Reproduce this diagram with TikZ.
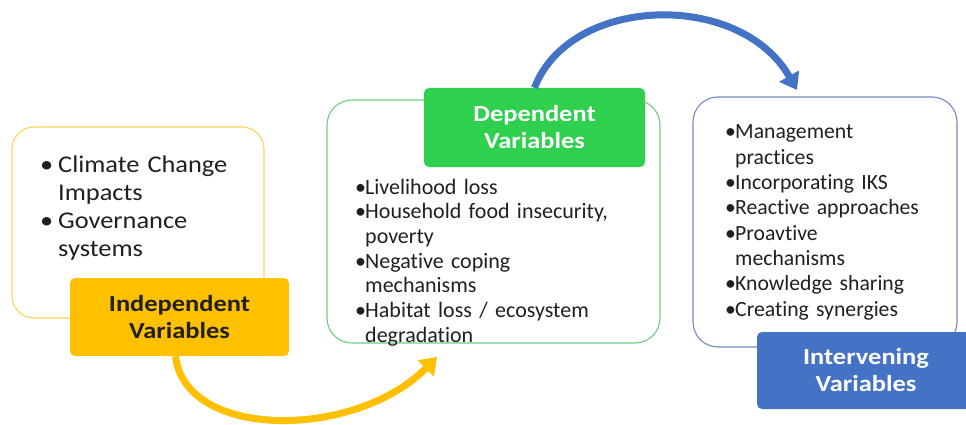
\documentclass[tikz,border=0pt]{standalone}
\usepackage{fontspec}
\setmainfont{Carlito}[Ligatures=NoCommon]
\newfontfamily\labfont{Carlito}[FakeStretch=1.15,Ligatures=NoCommon]
\newfontfamily\wfont{Carlito}[FakeStretch=1.1,Ligatures=NoCommon]
\usetikzlibrary{arrows.meta}
\definecolor{gold}{RGB}{255,192,0}
\definecolor{goldline}{RGB}{255,210,90}
\definecolor{grn}{RGB}{46,208,78}
\definecolor{grnline}{RGB}{110,205,130}
\definecolor{blu}{RGB}{68,114,196}
\definecolor{bluline}{RGB}{115,138,198}
\definecolor{txt}{RGB}{32,32,32}
\newcommand\bulA{\makebox[18pt][l]{•}}
\newcommand\indA{\hspace*{18pt}}
\newcommand\bulB{\makebox[10pt][l]{•}}
\newcommand\indB{\hspace*{10pt}}
\begin{document}
\begin{tikzpicture}[x=1pt,y=-1pt,
  outbox/.style={draw, line width=1.1pt, rounded corners=22pt, fill=white, inner sep=0},
  labbox/.style={rounded corners=5pt, inner sep=0, align=center,
    font=\labfont\bfseries\fontsize{23}{27}\selectfont},
  bodytext/.style={anchor=base west, inner sep=0, align=left, text width=260pt, text=txt},
  arr/.style={line width=7pt, -{Triangle[width=22pt,length=16pt]}}
]
\useasboundingbox[fill=white] (0,0) rectangle (966,425);

% outline boxes
\node[outbox, draw=goldline, minimum width=252pt, minimum height=191pt] (b1) at (138,222.5) {};
\node[outbox, draw=grnline, minimum width=333pt, minimum height=243pt, rounded corners=25pt] (b2) at (493.5,221.5) {};
\node[outbox, draw=bluline, minimum width=264pt, minimum height=250pt, rounded corners=25pt] (b3) at (825,222) {};

% body texts
\node[bodytext, font=\wfont\fontsize{24}{28}\selectfont] (t1) at (40,172)
  {\bulA Climate Change\\ \indA Impacts\\ \bulA Governance\\ \indA systems};
\node[bodytext, font=\fontsize{22}{24.7}\selectfont] (t2) at (355,194)
  {\bulB Livelihood loss\\ \bulB Household food insecurity,\\ \indB poverty\\
   \bulB Negative coping\\ \indB mechanisms\\ \bulB Habitat loss / ecosystem\\ \indB degradation};
\node[bodytext, font=\fontsize{21.7}{25.3}\selectfont] (t3) at (725,139)
  {\bulB Management\\ \indB practices\\ \bulB Incorporating IKS\\ \bulB Reactive approaches\\
   \bulB Proavtive\\ \indB mechanisms\\ \bulB Knowledge sharing\\ \bulB Creating synergies};

% labels
\node[labbox, fill=gold, text=txt, minimum width=219pt, minimum height=78pt] (lab1) at (179.5,317)
  {Independent\\Variables};
\node[labbox, fill=grn, text=white, minimum width=221pt, minimum height=79pt] (lab2) at (534.5,127.5)
  {Dependent\\Variables};
\node[labbox, fill=blu, text=white, minimum width=218pt, minimum height=77pt] (lab3) at (866,370.5)
  {Intervening\\Variables};

% arrows
\coordinate (yt) at (437,357);
\coordinate (bt) at (797,90);
\draw[arr, gold] ([xshift=-4pt]lab1.south) .. controls (185,440) and (355,440) .. (yt);
\draw[arr, blu] (lab2.north) .. controls (570,-5) and (740,-10) .. (bt);
\end{tikzpicture}
\end{document}
